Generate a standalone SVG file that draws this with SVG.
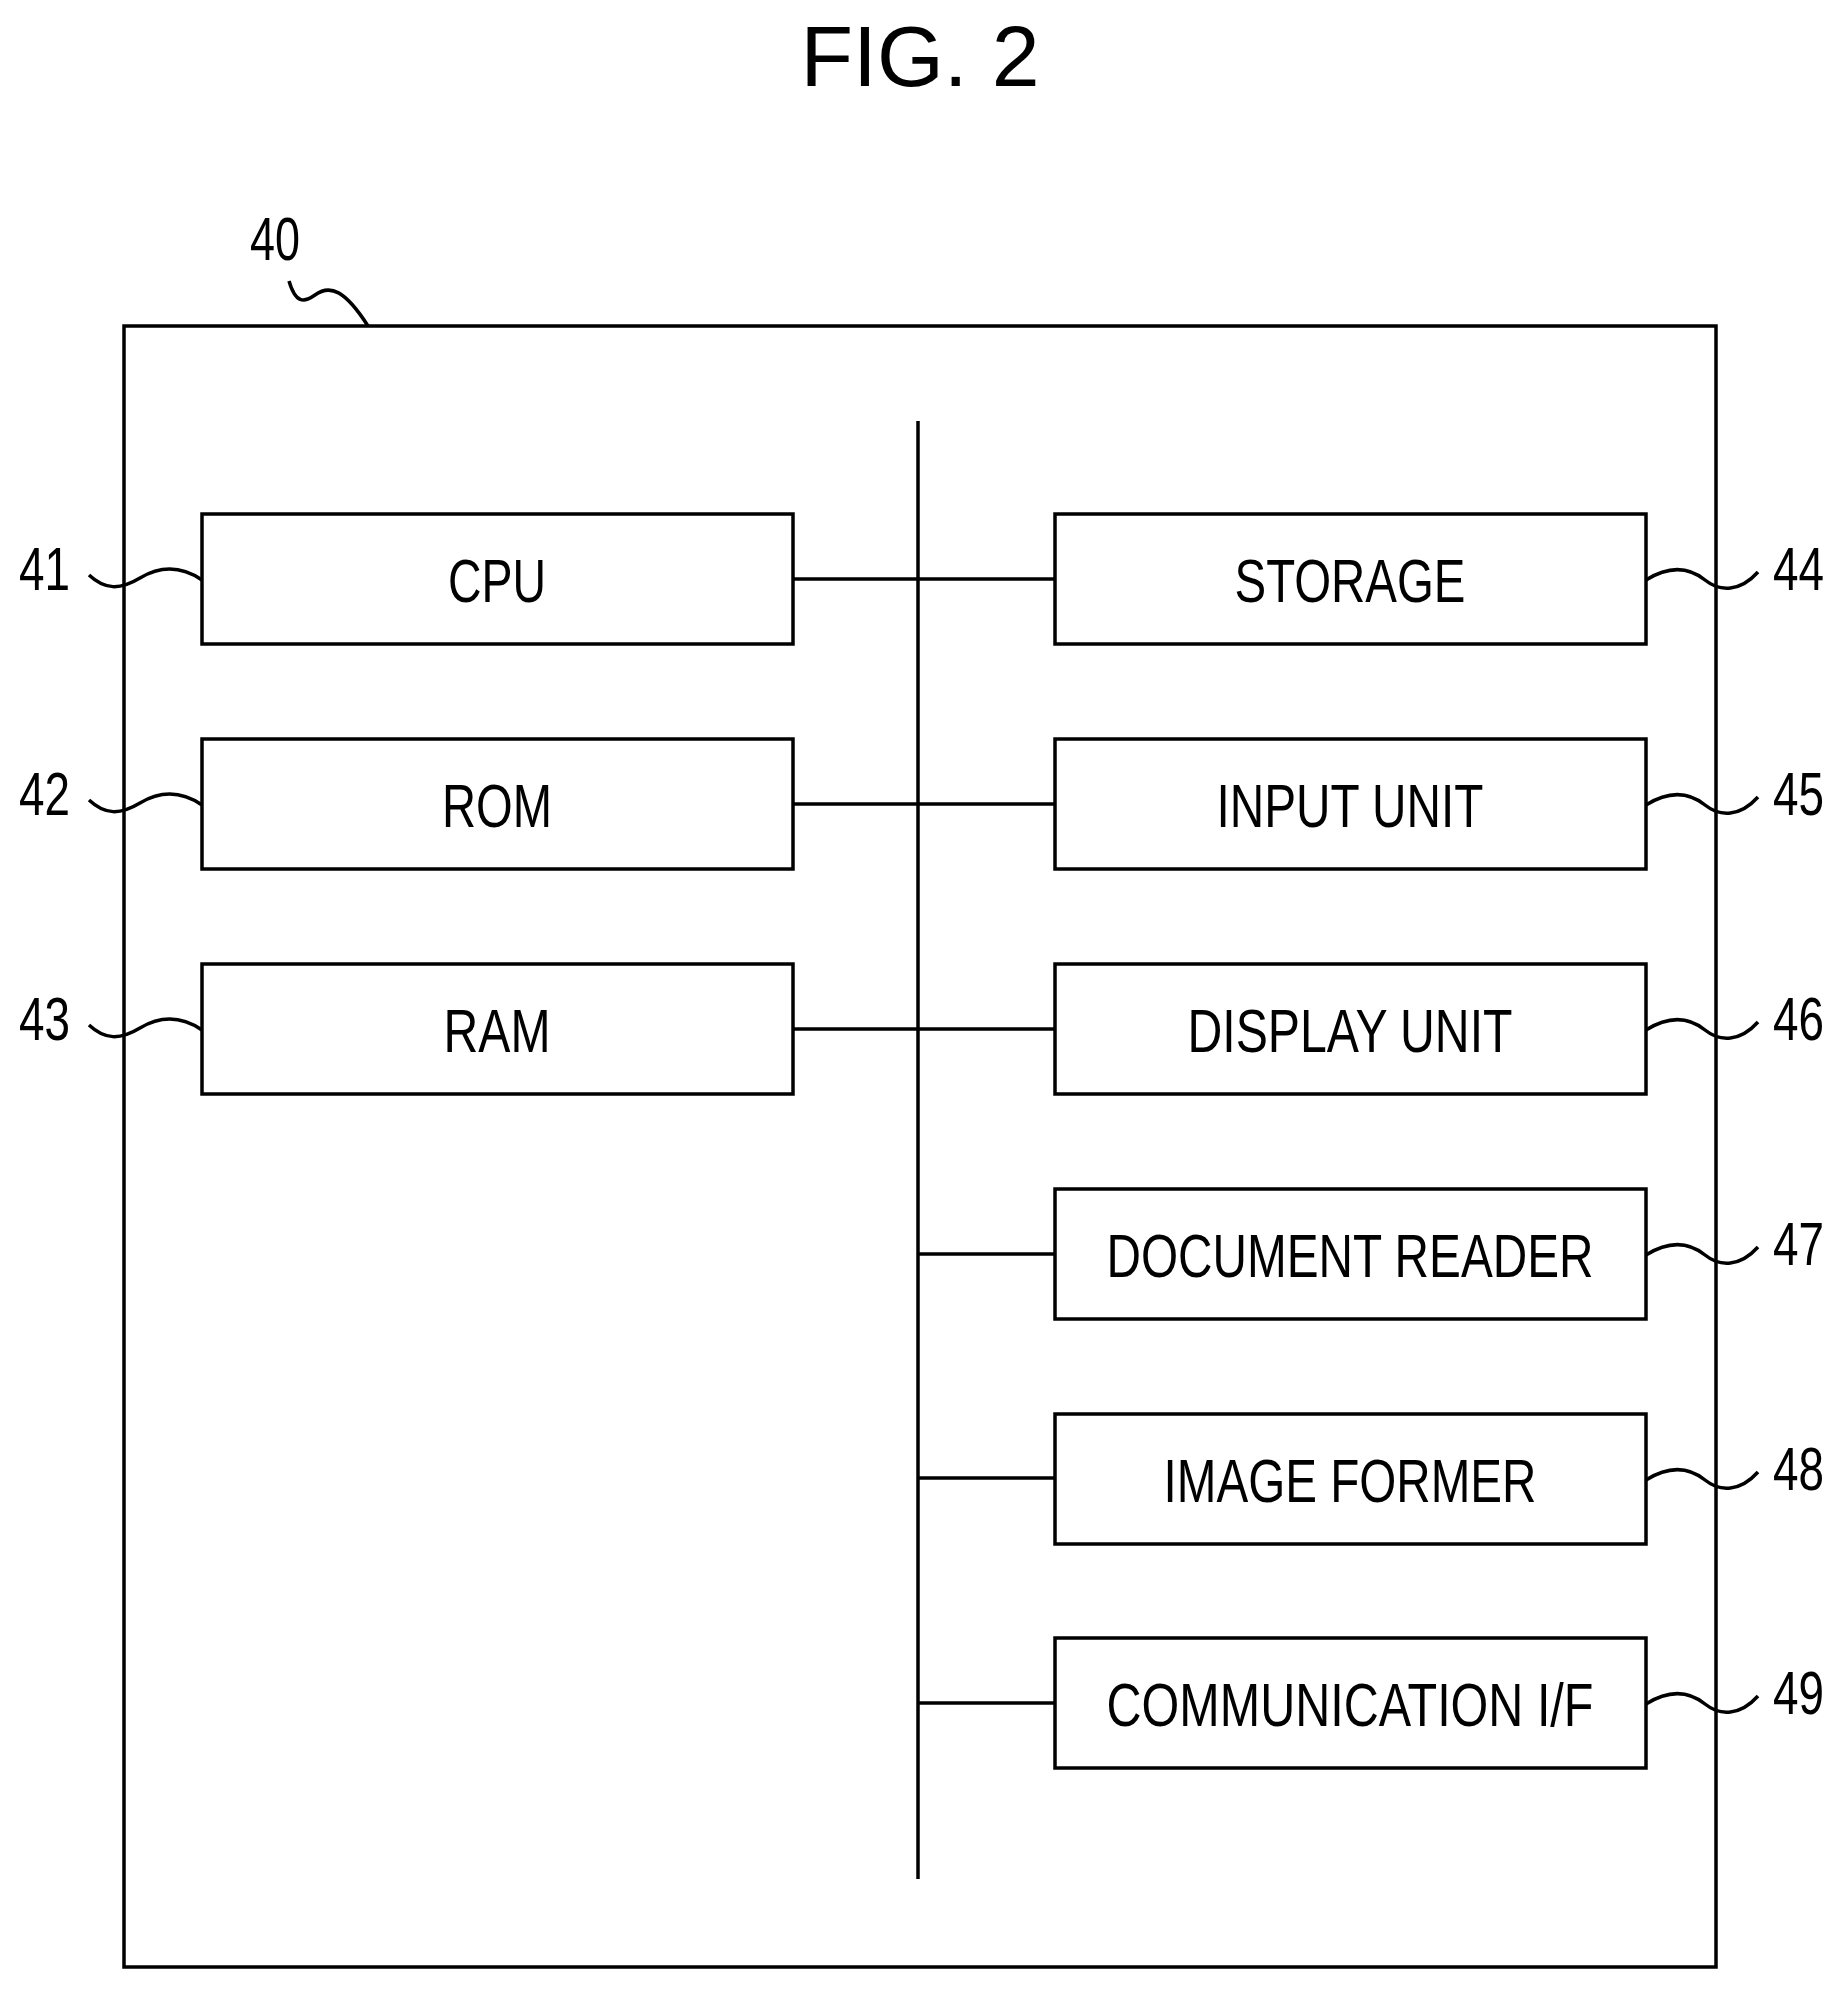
<svg xmlns="http://www.w3.org/2000/svg" width="1846" height="1991" viewBox="0 0 1846 1991">
<style>
.b{fill:none;stroke:#000;stroke-width:3.5}
.t{font-family:"Liberation Sans",Arial,sans-serif;font-size:62px;fill:#000;text-anchor:middle}
.n{font-family:"Liberation Sans",Arial,sans-serif;font-size:62px;fill:#000}
</style>
<rect width="1846" height="1991" fill="#fff"/>
<text x="920" y="86" font-family="Liberation Sans,Arial,sans-serif" font-size="86" text-anchor="middle" textLength="239" lengthAdjust="spacingAndGlyphs">FIG. 2</text>
<g id="n40"><rect class="b" x="124" y="326" width="1592" height="1641"/>
<path class="b" d="M289,281 C296,305 305,302 315,295 C330,284 345,290 368,326"/>
<text class="n" x="250" y="260" textLength="50" lengthAdjust="spacingAndGlyphs">40</text></g>
<g id="connectors">
<line class="b" x1="918" y1="421" x2="918" y2="1879"/>
<line class="b" x1="793" y1="579" x2="1055" y2="579"/>
<line class="b" x1="793" y1="804" x2="1055" y2="804"/>
<line class="b" x1="793" y1="1029" x2="1055" y2="1029"/>
<line class="b" x1="918" y1="1254" x2="1055" y2="1254"/>
<line class="b" x1="918" y1="1478" x2="1055" y2="1478"/>
<line class="b" x1="918" y1="1703" x2="1055" y2="1703"/>
</g>
<g id="n41"><rect class="b" x="202" y="514" width="591" height="130"/><text class="t" x="497" y="602" textLength="98" lengthAdjust="spacingAndGlyphs">CPU</text>
<path class="b" d="M89,575 C105,590 120,590 140,578 S180,565 202,580"/><text class="n" x="19" y="590" textLength="51" lengthAdjust="spacingAndGlyphs">41</text></g>
<g id="n42"><rect class="b" x="202" y="739" width="591" height="130"/><text class="t" x="497" y="827" textLength="110" lengthAdjust="spacingAndGlyphs">ROM</text>
<path class="b" d="M89,800 C105,815 120,815 140,803 S180,790 202,805"/><text class="n" x="19" y="815" textLength="51" lengthAdjust="spacingAndGlyphs">42</text></g>
<g id="n43"><rect class="b" x="202" y="964" width="591" height="130"/><text class="t" x="497" y="1052" textLength="107" lengthAdjust="spacingAndGlyphs">RAM</text>
<path class="b" d="M89,1025 C105,1040 120,1040 140,1028 S180,1015 202,1030"/><text class="n" x="19" y="1040" textLength="51" lengthAdjust="spacingAndGlyphs">43</text></g>
<g id="n44"><rect class="b" x="1055" y="514" width="591" height="130"/><text class="t" x="1350" y="602" textLength="231" lengthAdjust="spacingAndGlyphs">STORAGE</text>
<path class="b" d="M1646,580 C1670,565 1690,568 1705,580 S1740,592 1758,572"/><text class="n" x="1773" y="590" textLength="51" lengthAdjust="spacingAndGlyphs">44</text></g>
<g id="n45"><rect class="b" x="1055" y="739" width="591" height="130"/><text class="t" x="1350" y="827" textLength="267" lengthAdjust="spacingAndGlyphs">INPUT UNIT</text>
<path class="b" d="M1646,805 C1670,790 1690,793 1705,805 S1740,817 1758,797"/><text class="n" x="1773" y="815" textLength="51" lengthAdjust="spacingAndGlyphs">45</text></g>
<g id="n46"><rect class="b" x="1055" y="964" width="591" height="130"/><text class="t" x="1350" y="1052" textLength="325" lengthAdjust="spacingAndGlyphs">DISPLAY UNIT</text>
<path class="b" d="M1646,1030 C1670,1015 1690,1018 1705,1030 S1740,1042 1758,1022"/><text class="n" x="1773" y="1040" textLength="51" lengthAdjust="spacingAndGlyphs">46</text></g>
<g id="n47"><rect class="b" x="1055" y="1189" width="591" height="130"/><text class="t" x="1350" y="1277" textLength="487" lengthAdjust="spacingAndGlyphs">DOCUMENT READER</text>
<path class="b" d="M1646,1255 C1670,1240 1690,1243 1705,1255 S1740,1267 1758,1247"/><text class="n" x="1773" y="1265" textLength="51" lengthAdjust="spacingAndGlyphs">47</text></g>
<g id="n48"><rect class="b" x="1055" y="1414" width="591" height="130"/><text class="t" x="1350" y="1502" textLength="373" lengthAdjust="spacingAndGlyphs">IMAGE FORMER</text>
<path class="b" d="M1646,1480 C1670,1465 1690,1468 1705,1480 S1740,1492 1758,1472"/><text class="n" x="1773" y="1490" textLength="51" lengthAdjust="spacingAndGlyphs">48</text></g>
<g id="n49"><rect class="b" x="1055" y="1638" width="591" height="130"/><text class="t" x="1350" y="1726" textLength="487" lengthAdjust="spacingAndGlyphs">COMMUNICATION I/F</text>
<path class="b" d="M1646,1704 C1670,1689 1690,1692 1705,1704 S1740,1716 1758,1696"/><text class="n" x="1773" y="1714" textLength="51" lengthAdjust="spacingAndGlyphs">49</text></g>
</svg>
